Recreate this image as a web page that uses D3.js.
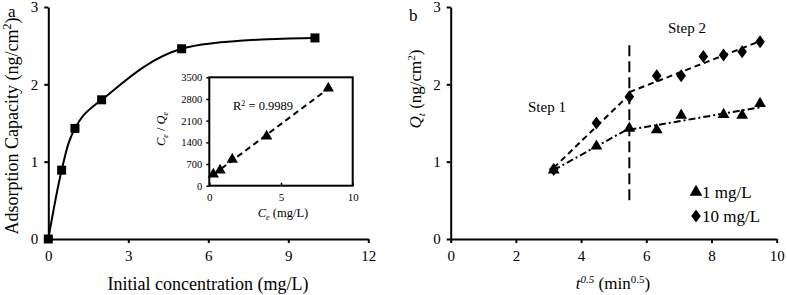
<!DOCTYPE html>
<html><head><meta charset="utf-8">
<script src="https://cdn.jsdelivr.net/npm/d3@7"></script>
<style>body{margin:0;background:#fff}svg{display:block;font-family:"Liberation Serif","Times New Roman",serif}</style>
</head><body><svg id="c" width="787" height="295"></svg>
<script>
// Panel a: adsorption isotherm
const concA = [0, 0.5, 1, 2, 5, 10];
const capA = [0, 0.89, 1.43, 1.80, 2.46, 2.60];
const ticksAx = [0, 3, 6, 9, 12];
const ticksAy = [0, 1, 2, 3];
// Inset: Langmuir linear plot
const ceI = [0.28, 0.75, 1.6, 4.0, 8.3];
const ceqeI = [370, 500, 850, 1600, 3150];
const ticksIx = [0, 5, 10];
const ticksIy = [0, 700, 1400, 2100, 2800, 3500];
const r2Label = "0.9989";
// Panel b: intraparticle diffusion
const tB = [3.16, 4.47, 5.48, 6.32, 7.07, 7.75, 8.37, 8.94, 9.49];
const q1 = [0.89, 1.20, 1.43, 1.41, 1.60, null, 1.61, 1.60, 1.75];
const q10 = [0.90, 1.50, 1.84, 2.11, 2.11, 2.36, 2.38, 2.42, 2.55];
const ticksBx = [0, 2, 4, 6, 8, 10];
const ticksBy = [0, 1, 2, 3];
const stepX = 5.48, stepY = [0.5, 2.53];
const legendLabels = ["1 mg/L", "10 mg/L"];

const FONT = "'Liberation Serif','Times New Roman',serif";
const svg = d3.select("#c");
const xA = d3.scaleLinear([0, 12], [48.3, 368.3]);
const yA = d3.scaleLinear([0, 3], [239, 7]);
const xB = d3.scaleLinear([0, 10], [450.7, 776.7]);
const yB = d3.scaleLinear([0, 3], [239, 7]);
const xI = d3.scaleLinear([0, 10], [209.3, 352.7]);
const yI = d3.scaleLinear([0, 3500], [185.7, 77.3]);
const fmt = d3.format("d");

function styleAxis(g, fs, sw) {
  g.style("font-family", FONT).attr("font-family", null);
  g.selectAll("path.domain").attr("stroke", "#000").attr("stroke-width", sw);
  g.selectAll(".tick line").attr("stroke", "#000").attr("stroke-width", sw);
  g.selectAll(".tick text").style("font-family", FONT).style("font-size", fs + "px").attr("fill", "#000");
}
function mainAxes(x, y, tx, ty) {
  const gx = svg.append("g").attr("transform", `translate(0,${y(0)})`)
    .call(d3.axisBottom(x).tickValues(tx).tickFormat(fmt).tickSize(4).tickSizeOuter(0).tickPadding(7));
  styleAxis(gx, 15, 2);
  const gy = svg.append("g").attr("transform", `translate(${x(0)},0)`)
    .call(d3.axisLeft(y).tickValues(ty).tickFormat(fmt).tickSize(4).tickSizeOuter(0).tickPadding(6));
  styleAxis(gy, 15, 2);
}
mainAxes(xA, yA, ticksAx, ticksAy);
mainAxes(xB, yB, ticksBx, ticksBy);

// Panel a curve
const ptsA = concA.map((c, i) => [c, capA[i]]);
svg.append("path").attr("d", d3.line().x(d => xA(d[0])).y(d => yA(d[1])).curve(d3.curveCatmullRom.alpha(0))(ptsA))
  .attr("fill", "none").attr("stroke", "#000").attr("stroke-width", 2);
svg.selectAll(".sq").data(ptsA).join("rect")
  .attr("x", d => xA(d[0]) - 4.5).attr("y", d => yA(d[1]) - 4.5).attr("width", 9).attr("height", 9).attr("fill", "#000");

// Labels panel a
svg.append("text").attr("x", 8).attr("y", 17).attr("font-size", 17).text("a");
svg.append("text").attr("transform", "translate(18,126) rotate(-90)").attr("text-anchor", "middle").attr("font-size", 18)
  .call(t => { t.append("tspan").text("Adsorption Capacity (ng/cm"); t.append("tspan").attr("dy", -7).attr("font-size", 12).text("2"); t.append("tspan").attr("dy", 7).text(")"); });
svg.append("text").attr("x", 208).attr("y", 290).attr("text-anchor", "middle").attr("font-size", 18).text("Initial concentration (mg/L)");

// Inset
svg.append("rect").attr("x", xI(0)).attr("y", yI(3500)).attr("width", xI(10) - xI(0)).attr("height", yI(0) - yI(3500))
  .attr("fill", "#fff").attr("stroke", "#000").attr("stroke-width", 2);
const gix = svg.append("g").attr("transform", `translate(0,${yI(0)})`)
  .call(d3.axisBottom(xI).tickValues(ticksIx).tickFormat(fmt).tickSize(-3).tickSizeOuter(0).tickPadding(8));
styleAxis(gix, 11, 1.5); gix.select("path.domain").remove();
const giy = svg.append("g").attr("transform", `translate(${xI(0)},0)`)
  .call(d3.axisLeft(yI).tickValues(ticksIy).tickFormat(fmt).tickSize(3).tickSizeOuter(0).tickPadding(4));
styleAxis(giy, 10.5, 1.5); giy.select("path.domain").remove();
// regression line
const mx = d3.mean(ceI), my = d3.mean(ceqeI);
const slope = d3.sum(ceI, (v, i) => (v - mx) * (ceqeI[i] - my)) / d3.sum(ceI, v => (v - mx) ** 2);
const icp = my - slope * mx;
const ext = d3.extent(ceI);
svg.append("line").attr("x1", xI(ext[0])).attr("y1", yI(icp + slope * ext[0])).attr("x2", xI(ext[1])).attr("y2", yI(icp + slope * ext[1]))
  .attr("stroke", "#000").attr("stroke-width", 2).attr("stroke-dasharray", "6,4");
const tri = d3.symbol().type(d3.symbolTriangle);
svg.selectAll(".ti").data(ceI.map((c, i) => [c, ceqeI[i]])).join("path")
  .attr("d", tri.size(55)()).attr("transform", d => `translate(${xI(d[0])},${yI(d[1])})`).attr("fill", "#000");
svg.append("text").attr("x", 233).attr("y", 110).attr("font-size", 12.5)
  .call(t => { t.append("tspan").text("R"); t.append("tspan").attr("dy", -4).attr("font-size", 8).text("2"); t.append("tspan").attr("dy", 4).text(" = " + r2Label); });
svg.append("text").attr("transform", "translate(165,129) rotate(-90)").attr("text-anchor", "middle").attr("font-size", 12.5)
  .call(t => {
    t.append("tspan").attr("font-style", "italic").text("C");
    t.append("tspan").attr("font-style", "italic").attr("font-size", 8).attr("dy", 3).text("e");
    t.append("tspan").attr("dy", -3).text(" / ");
    t.append("tspan").attr("font-style", "italic").text("Q");
    t.append("tspan").attr("font-style", "italic").attr("font-size", 8).attr("dy", 3).text("e");
  });
svg.append("text").attr("x", 283).attr("y", 217).attr("text-anchor", "middle").attr("font-size", 12.5)
  .call(t => {
    t.append("tspan").attr("font-style", "italic").text("C");
    t.append("tspan").attr("font-style", "italic").attr("font-size", 8).attr("dy", 3).text("e");
    t.append("tspan").attr("dy", -3).text(" (mg/L)");
  });

// Panel b
function fitSeg(xs, ys) {
  const p = xs.map((x, i) => [x, ys[i]]).filter(d => d[1] != null);
  const m1 = d3.mean(p, d => d[0]), m2 = d3.mean(p, d => d[1]);
  const s = d3.sum(p, d => (d[0] - m1) * (d[1] - m2)) / d3.sum(p, d => (d[0] - m1) ** 2);
  const e = d3.extent(p, d => d[0]);
  return [[e[0], m2 + s * (e[0] - m1)], [e[1], m2 + s * (e[1] - m1)]];
}
function drawSeg(seg, dash) {
  svg.append("line").attr("x1", xB(seg[0][0])).attr("y1", yB(seg[0][1])).attr("x2", xB(seg[1][0])).attr("y2", yB(seg[1][1]))
    .attr("stroke", "#000").attr("stroke-width", 2).attr("stroke-dasharray", dash);
}
drawSeg(fitSeg(tB.slice(0, 3), q10.slice(0, 3)), "6,4");
drawSeg(fitSeg(tB.slice(2), q10.slice(2)), "6,4");
drawSeg(fitSeg(tB.slice(0, 3), q1.slice(0, 3)), "7,3,2,3");
drawSeg(fitSeg(tB.slice(2), q1.slice(2)), "7,3,2,3");
svg.append("line").attr("x1", xB(stepX)).attr("x2", xB(stepX)).attr("y1", yB(stepY[0])).attr("y2", yB(stepY[1]))
  .attr("stroke", "#000").attr("stroke-width", 2).attr("stroke-dasharray", "11,5");
const dia = d3.symbol().type(d3.symbolDiamond);
svg.selectAll(".d10").data(tB.map((t, i) => [t, q10[i]])).join("path")
  .attr("d", dia.size(60)()).attr("transform", d => `translate(${xB(d[0])},${yB(d[1])}) scale(1.15,0.9)`).attr("fill", "#000");
svg.selectAll(".t1").data(tB.map((t, i) => [t, q1[i]]).filter(d => d[1] != null)).join("path")
  .attr("d", tri.size(60)()).attr("transform", d => `translate(${xB(d[0])},${yB(d[1])})`).attr("fill", "#000");

svg.append("text").attr("x", 409).attr("y", 21).attr("font-size", 17).text("b");
svg.append("text").attr("x", 528).attr("y", 112).attr("font-size", 15).text("Step 1");
svg.append("text").attr("x", 668).attr("y", 33).attr("font-size", 15).text("Step 2");
svg.append("path").attr("d", tri.size(70)()).attr("transform", "translate(696,192)").attr("fill", "#000");
svg.append("path").attr("d", dia.size(60)()).attr("transform", "translate(696,216) scale(1.15,0.9)").attr("fill", "#000");
svg.append("text").attr("x", 702).attr("y", 198).attr("font-size", 17).text(legendLabels[0]);
svg.append("text").attr("x", 702).attr("y", 222).attr("font-size", 17).text(legendLabels[1]);
svg.append("text").attr("transform", "translate(421,89) rotate(-90)").attr("text-anchor", "middle").attr("font-size", 17)
  .call(t => {
    t.append("tspan").attr("font-style", "italic").text("Q");
    t.append("tspan").attr("font-style", "italic").attr("font-size", 11).attr("dy", 4).text("t");
    t.append("tspan").attr("dy", -4).text(" (ng/cm");
    t.append("tspan").attr("font-size", 11).attr("dy", -6).text("2");
    t.append("tspan").attr("dy", 6).text(")");
  });
svg.append("text").attr("x", 613).attr("y", 289).attr("text-anchor", "middle").attr("font-size", 17)
  .call(t => {
    t.append("tspan").attr("font-style", "italic").text("t");
    t.append("tspan").attr("font-style", "italic").attr("font-size", 11).attr("dy", -6).text("0.5");
    t.append("tspan").attr("dy", 6).text(" (min");
    t.append("tspan").attr("font-size", 11).attr("dy", -6).text("0.5");
    t.append("tspan").attr("dy", 6).text(")");
  });
</script></body></html>
